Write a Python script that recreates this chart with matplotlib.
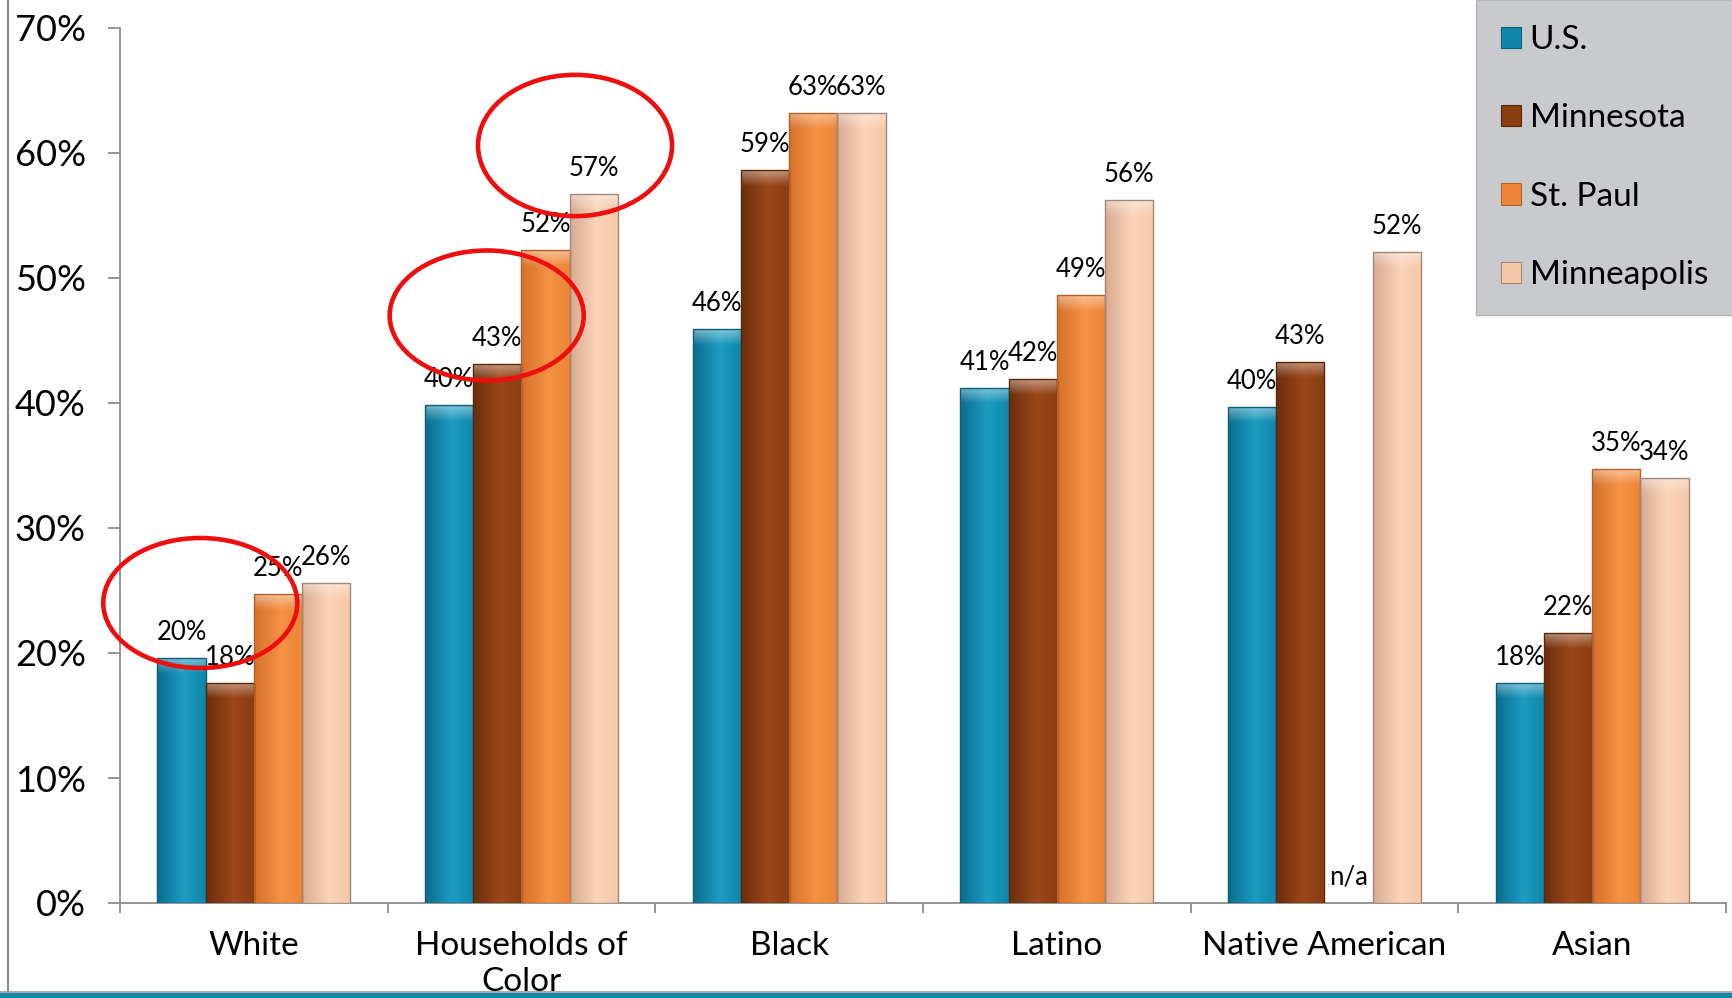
import numpy as np
import matplotlib.pyplot as plt
from matplotlib.patches import Ellipse, Patch, Rectangle
from matplotlib.lines import Line2D
from matplotlib.colors import to_rgb

plt.rcParams['font.family'] = ['Lato', 'DejaVu Sans']

# Share of households (%) by group and geography; None = not available
categories = ['White', 'Households of\nColor', 'Black', 'Latino', 'Native American', 'Asian']
us = [19.6, 39.8, 45.9, 41.2, 39.7, 17.6]
minnesota = [17.6, 43.1, 58.6, 41.9, 43.3, 21.6]
st_paul = [24.7, 52.2, 63.2, 48.6, None, 34.7]
minneapolis = [25.6, 56.7, 63.2, 56.2, 52.1, 34.0]

series_names = ['U.S.', 'Minnesota', 'St. Paul', 'Minneapolis']
series_values = [us, minnesota, st_paul, minneapolis]

# (dark side, base, light centre, edge) per series
palette = [
    ('#0a6d8e', '#0f86aa', '#1d9cc2', '#0b5f7c'),
    ('#6c2e0b', '#8a3e12', '#99471a', '#5c2608'),
    ('#d5702a', '#ee8538', '#f59245', '#b5602a'),
    ('#d8ab92', '#f5c8a8', '#fad4b8', '#a08878'),
]

yticks = [0, 10, 20, 30, 40, 50, 60, 70]

fig = plt.figure(figsize=(17.33, 9.98), dpi=100)
ax = fig.add_axes([120 / 1733, 1 - 903 / 998, (1726 - 120) / 1733, (903 - 28) / 998])

x = np.arange(len(categories))
width = 0.18


def bar_image(dark, base, light, height):
    # horizontal shading with a lighter bevel at the top of the bar
    cols = 60
    t = np.linspace(0, 1, cols)
    d, b, l = (np.array(to_rgb(c)) for c in (dark, base, light))
    prof = np.where(t[:, None] < 0.55,
                    d + (l - d) * (t[:, None] / 0.55),
                    l + (b - l) * ((t[:, None] - 0.55) / 0.45))
    rows = 240
    depth = (np.arange(rows) + 0.5) / rows * height
    glow = np.clip(1 - depth / 1.3, 0, 1)[:, None, None] * 0.45
    img = prof[None, :, :] * (1 - glow) + glow
    return np.clip(img, 0, 1)


for i, (name, vals) in enumerate(zip(series_names, series_values)):
    dark, base, light, edge = palette[i]
    xpos = x + (i - 1.5) * width
    for xp, v in zip(xpos, vals):
        if v is None:
            ax.annotate('n/a', (xp, 0), xytext=(0, 13), textcoords='offset points',
                        ha='center', va='baseline', fontsize=18.5, zorder=2)
            continue
        bar = ax.bar(xp, v, width, facecolor='none', edgecolor=edge,
                     linewidth=1.0, zorder=4)[0]
        im = ax.imshow(bar_image(dark, base, light, v),
                       extent=[xp - width / 2, xp + width / 2, 0, v],
                       aspect='auto', zorder=3, interpolation='bilinear')
        im.set_clip_path(bar)
        ax.annotate(f'{v:.0f}%', (xp, v), xytext=(0, 13), textcoords='offset points',
                    ha='center', va='baseline', fontsize=18.5, zorder=2)

ax.set_xlim(-0.5, len(categories) - 0.5)
ax.set_ylim(0, 70)

ax.set_yticks(yticks)
ax.set_yticklabels([f'{v}%' for v in yticks], fontsize=26)
ax.set_xticks(x)
ax.set_xticklabels(categories, fontsize=24, linespacing=1.21, va='top')
ax.set_xticks(np.arange(-0.5, len(categories)), minor=True)
ax.tick_params(axis='x', which='major', length=0, pad=20.5)
ax.tick_params(axis='x', which='minor', length=7, width=1.3, color='#8c8c8c', direction='out')
ax.tick_params(axis='y', length=8.6, width=1.3, color='#8c8c8c', pad=16)

for side in ['top', 'right']:
    ax.spines[side].set_visible(False)
for side in ['left', 'bottom']:
    ax.spines[side].set_color('#8c8c8c')
    ax.spines[side].set_linewidth(1.3)

# red highlight rings around selected figures
rings = [(-0.20, 24.0, 0.725, 10.4), (0.87, 47.0, 0.725, 10.4), (1.20, 60.6, 0.725, 11.3)]
for cx, cy, w, h in rings:
    ax.add_patch(Ellipse((cx, cy), w, h, fill=False, edgecolor='#ee0e0e',
                         linewidth=3.3, zorder=6, clip_on=False))

handles = [Patch(facecolor=palette[i][1], edgecolor=palette[i][3], linewidth=0.8)
           for i in range(4)]
leg = fig.legend(handles, series_names, loc='upper right', bbox_to_anchor=(1.0, 1.0),
                 fontsize=24, frameon=True, fancybox=False, framealpha=1,
                 facecolor='#c9cacd', edgecolor='#b5b6b8', borderaxespad=0,
                 handlelength=0.6, handleheight=0.6, handletextpad=0.25,
                 labelspacing=1.45, borderpad=0.75)
leg.set_zorder(8)

# slide frame: grey rule on the left, teal band along the bottom
fig.add_artist(Line2D([8 / 1733, 8 / 1733], [6 / 998, 1], color='#8a8a8a',
                      linewidth=1.5, transform=fig.transFigure, zorder=9))
fig.add_artist(Rectangle((0, 0), 1, 5 / 998, facecolor='#1388ad', edgecolor='none',
                         transform=fig.transFigure, zorder=9))
fig.add_artist(Line2D([0, 1], [6 / 998, 6 / 998], color='#9a9a9a', linewidth=1.2,
                      transform=fig.transFigure, zorder=9))

fig.savefig('out.png', dpi=100)
